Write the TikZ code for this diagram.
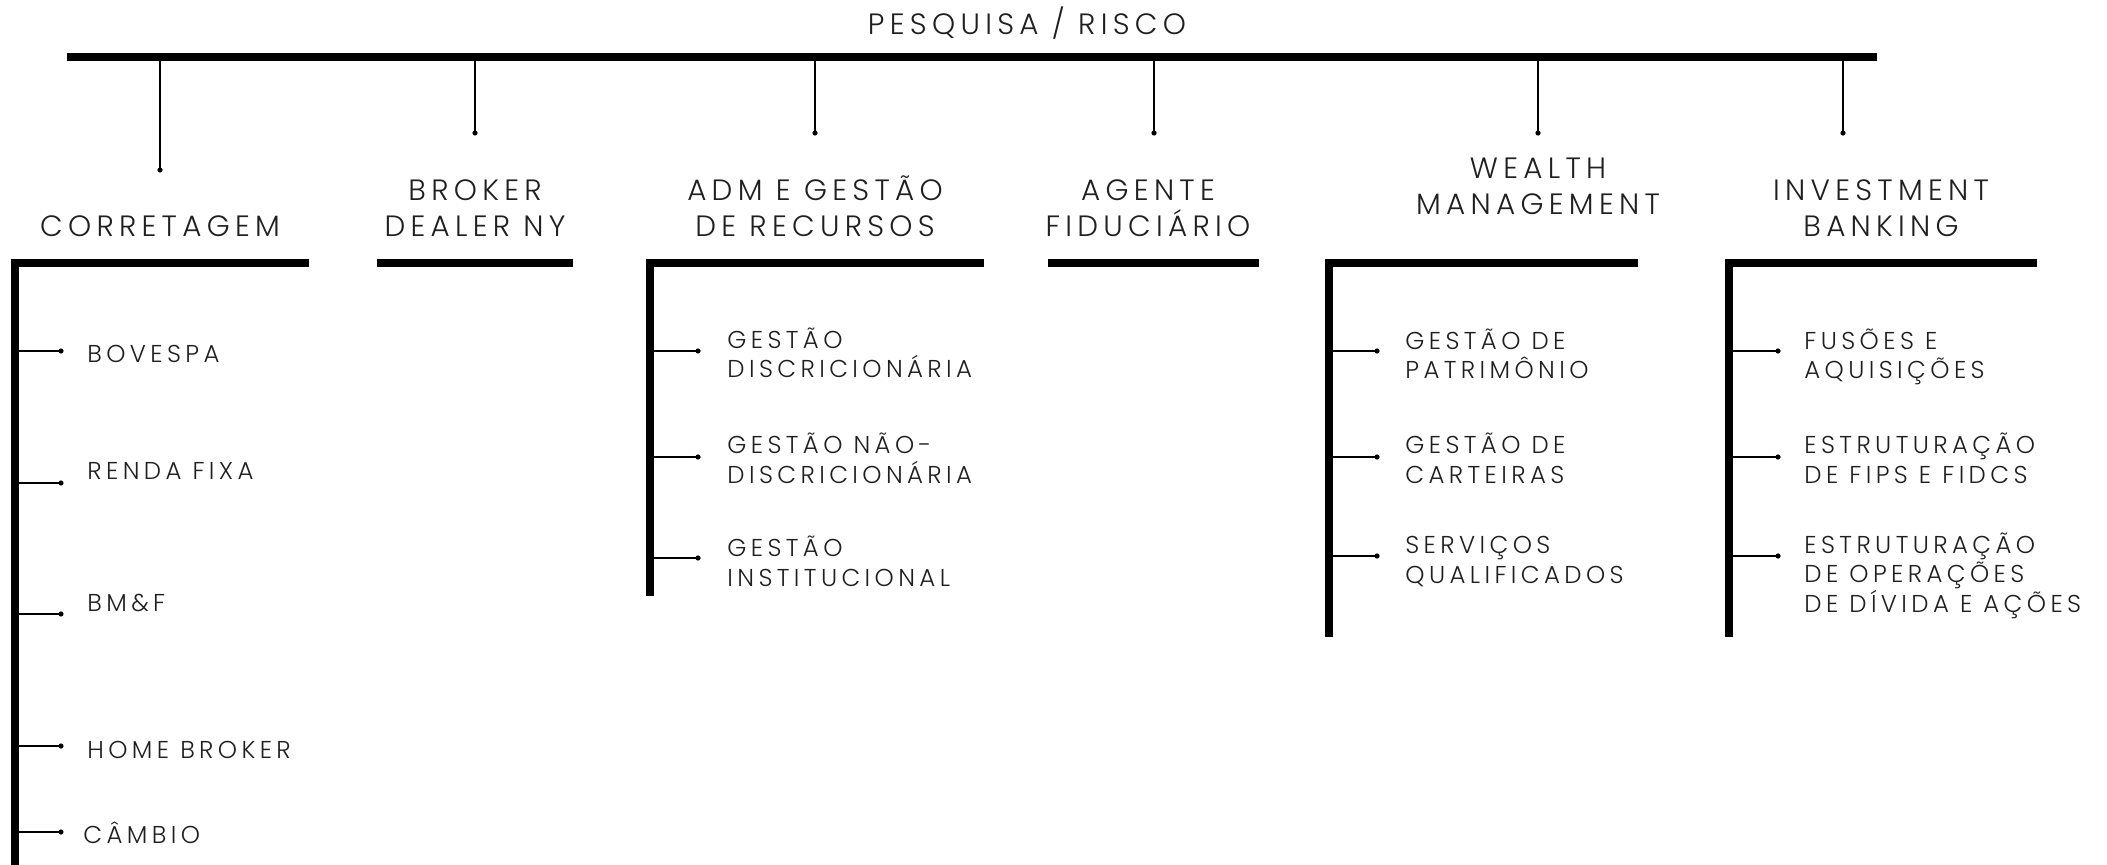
\documentclass[tikz,border=0pt]{standalone}
\usepackage{fontspec}
\setmainfont{Poppins}[UprightFont={* Light}, LetterSpace=18]
\begin{document}
\begin{tikzpicture}[x=0.5pt,y=-0.5pt,
  bar/.style={line width=4pt, line join=miter},
  thinline/.style={line width=0.6pt},
  dotend/.style={circle,fill=black,inner sep=0pt,minimum size=2.6pt},
  head/.style={font=\fontsize{14.7}{18.25}\selectfont, align=center, anchor=base, inner sep=0pt, text=black!88},
  item/.style={font=\fontsize{12.2}{14.75}\selectfont, align=left, anchor=base west, inner sep=0pt, text=black!88},
]
\path[use as bounding box, fill=white] (0,0) rectangle (2107,865);

% title and top bar
\node[head] (title) at (1027,35) {PESQUISA / RISCO};
\coordinate (topL) at (67,56.7);
\coordinate (topR) at (1877,56.7);
\draw[bar] (topL) -- (topR);

% drops from top bar
\foreach \n/\x/\y in {c/160/170, b/475/133, a/815/133, f/1154/133, w/1538/133, i/1843/133}{
  \coordinate (top\n) at (\x,60.7);
  \node[dotend] (drop\n) at (\x,\y) {};
  \draw[thinline] (top\n) -- (drop\n.center);
}

% headers (base anchor = last line baseline)
\node[head] (hc) at (160,237) {CORRETAGEM};
\node[head] (hb) at (475,237) {BROKER\\DEALER NY};
\node[head] (ha) at (815,237) {ADM E GESTÃO\\DE RECURSOS};
\node[head] (hf) at (1148,237) {AGENTE\\FIDUCIÁRIO};
\node[head] (hw) at (1538,215) {WEALTH\\MANAGEMENT};
\node[head] (hi) at (1881,237) {INVESTMENT\\BANKING};

% group bars
\coordinate (cR) at (309,263.5); \coordinate (cC) at (15,263.5); \coordinate (cB) at (15,865);
\draw[bar] (cR) -- (cC) -- (cB);
\coordinate (bL) at (377,263.5); \coordinate (bR) at (573,263.5);
\draw[bar] (bL) -- (bR);
\coordinate (aR) at (984,263.5); \coordinate (aC) at (650,263.5); \coordinate (aB) at (650,596);
\draw[bar] (aR) -- (aC) -- (aB);
\coordinate (fL) at (1048,263.5); \coordinate (fR) at (1259,263.5);
\draw[bar] (fL) -- (fR);
\coordinate (wR) at (1638,263.5); \coordinate (wC) at (1328.5,263.5); \coordinate (wB) at (1328.5,637);
\draw[bar] (wR) -- (wC) -- (wB);
\coordinate (iR) at (2037,263.5); \coordinate (iC) at (1729,263.5); \coordinate (iB) at (1729,637);
\draw[bar] (iR) -- (iC) -- (iB);

% corretagem items
\foreach \k/\y in {1/351, 2/483, 3/614, 4/746, 5/832}{
  \coordinate (cs\k) at (19,\y);
  \node[dotend] (cd\k) at (61,\y) {};
  \draw[thinline] (cs\k) -- (cd\k.center);
}
\node[item] (c1) at (87,363) {BOVESPA};
\node[item] (c2) at (87,480) {RENDA FIXA};
\node[item] (c3) at (87,611) {BM\&F};
\node[item] (c4) at (87,758) {HOME BROKER};
\node[item] (c5) at (83,843) {CÂMBIO};

% adm items
\foreach \k/\y in {1/351, 2/457, 3/558}{
  \coordinate (as\k) at (654,\y);
  \node[dotend] (ad\k) at (698,\y) {};
  \draw[thinline] (as\k) -- (ad\k.center);
}
\node[item] (a1) at (727,378) {GESTÃO\\DISCRICIONÁRIA};
\node[item] (a2) at (727,483) {GESTÃO NÃO-\\DISCRICIONÁRIA};
\node[item] (a3) at (727,586) {GESTÃO\\INSTITUCIONAL};

% wealth items
\foreach \k/\y in {1/351, 2/457, 3/556}{
  \coordinate (ws\k) at (1332,\y);
  \node[dotend] (wd\k) at (1377,\y) {};
  \draw[thinline] (ws\k) -- (wd\k.center);
}
\node[item] (w1) at (1405,379) {GESTÃO DE\\PATRIMÔNIO};
\node[item] (w2) at (1405,483) {GESTÃO DE\\CARTEIRAS};
\node[item] (w3) at (1405,583) {SERVIÇOS\\QUALIFICADOS};

% investment items
\foreach \k/\y in {1/351, 2/457, 3/556}{
  \coordinate (is\k) at (1733,\y);
  \node[dotend] (id\k) at (1778,\y) {};
  \draw[thinline] (is\k) -- (id\k.center);
}
\node[item] (i1) at (1804,379) {FUSÕES E\\AQUISIÇÕES};
\node[item] (i2) at (1804,483) {ESTRUTURAÇÃO\\DE FIPS E FIDCS};
\node[item] (i3) at (1804,612) {ESTRUTURAÇÃO\\DE OPERAÇÕES\\DE DÍVIDA E AÇÕES};
\end{tikzpicture}
\end{document}
